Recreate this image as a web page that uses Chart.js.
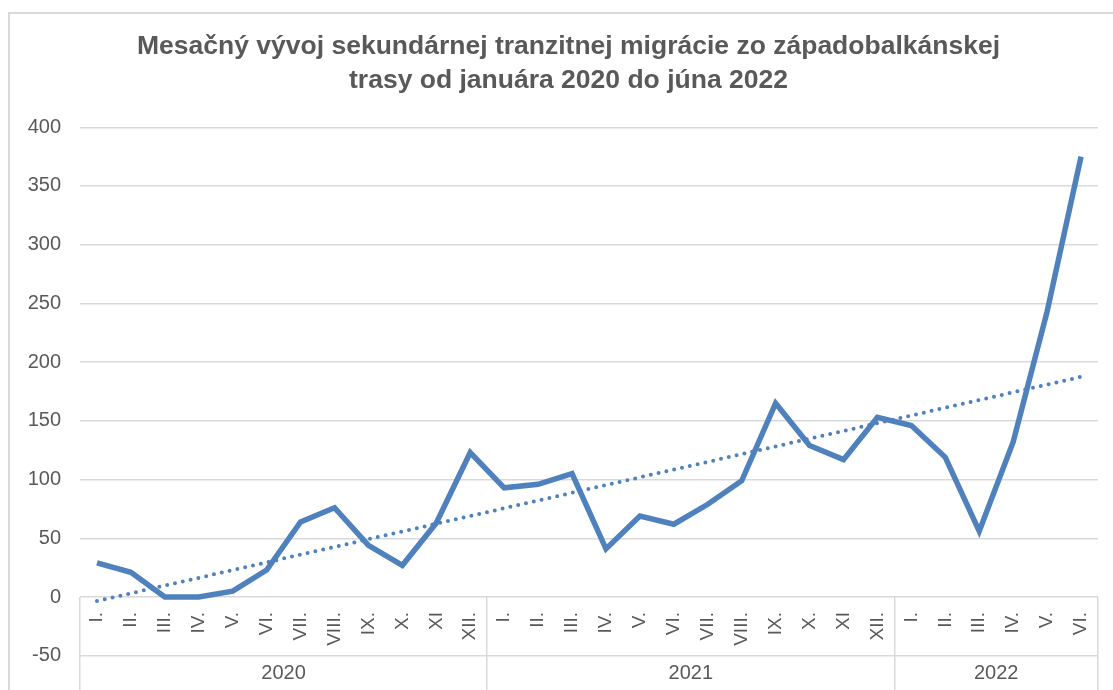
<!DOCTYPE html>
<html>
<head>
<meta charset="utf-8">
<script src="https://cdn.jsdelivr.net/npm/chart.js@4.4.1/dist/chart.umd.min.js"></script>
<style>
  html, body { margin: 0; padding: 0; background: #fff; overflow: hidden; }
  #frame { position: absolute; left: 8px; top: 12px; width: 1200px; height: 800px;
           border-left: 2px solid #d9d9d9; border-top: 2px solid #d9d9d9; }
  #myChart { position: absolute; left: 0; top: 0; }
</style>
</head>
<body>
<div id="frame"></div>
<canvas id="myChart" width="1128" height="700"></canvas>
<script>
// Chart data
const titleLines = [
    'Mesačný vývoj sekundárnej tranzitnej migrácie zo západobalkánskej',
    'trasy od januára 2020 do júna 2022'
];
const monthLabels = [
    'I.', 'II.', 'III.', 'IV.', 'V.', 'VI.', 'VII.', 'VIII.', 'IX.', 'X.', 'XI', 'XII.',
    'I.', 'II.', 'III.', 'IV.', 'V.', 'VI.', 'VII.', 'VIII.', 'IX.', 'X.', 'XI', 'XII.',
    'I.', 'II.', 'III.', 'IV.', 'V.', 'VI.'
];
const migrants = [
    29, 21, 0, 0, 5, 23, 64, 76, 44, 27, 63, 123,
    93, 96, 105, 41, 69, 62, 79, 99, 165, 129, 117, 153,
    146, 119, 56, 132, 243, 375
];
// linear trend, start and end
const trendStart = -3.4;
const trendEnd = 187.5;
const yearLabels = ['2020', '2021', '2022'];
const yearStarts = [0, 12, 24, 30];   // month index where each year begins (+ end)
const yTicks = [-50, 0, 50, 100, 150, 200, 250, 300, 350, 400];

const blue = 'rgb(79, 129, 189)';
const gridGray = '#d9d9d9';
const textGray = '#595959';
const fontFamily = '"Liberation Sans", Arial, sans-serif';

const trendData = monthLabels.map((m, i) => {
    if (i === 0) return trendStart;
    if (i === monthLabels.length - 1) return trendEnd;
    return null;
});

// year axis: boundaries + centres of each year group
const yearTickValues = [];
const yearTickText = {};
yearLabels.forEach((y, i) => {
    const mid = (yearStarts[i] + yearStarts[i + 1]) / 2;
    yearTickText[mid] = y;
});
yearStarts.forEach(v => yearTickValues.push(v));
Object.keys(yearTickText).forEach(v => yearTickValues.push(Number(v)));
yearTickValues.sort((a, b) => a - b);

const ctx = document.getElementById('myChart').getContext('2d');

const myChart = new Chart(ctx, {
    type: 'line',
    data: {
        labels: monthLabels,
        datasets: [
            {
                label: 'Lineárny trend',
                data: trendData,
                borderColor: blue,
                borderWidth: 4,
                borderDash: [0, 8],
                borderCapStyle: 'round',
                pointRadius: 0,
                spanGaps: true,
                order: 0
            },
            {
                label: 'Migranti',
                data: migrants,
                borderColor: blue,
                borderWidth: 5.5,
                borderJoinStyle: 'miter',
                pointRadius: 0,
                tension: 0,
                order: 1
            }
        ]
    },
    options: {
        responsive: false,
        animation: false,
        layout: {
            padding: { left: 9, right: 0, top: 13, bottom: 0 }
        },
        plugins: {
            legend: { display: false },
            tooltip: { enabled: false },
            title: {
                display: true,
                text: titleLines,
                color: textGray,
                font: { family: fontFamily, size: 26.5, weight: 'bold', lineHeight: 1.25 },
                padding: { top: 17.5, bottom: 30.5 }
            }
        },
        scales: {
            y: {
                min: -50,
                max: 400,
                afterBuildTicks: axis => { axis.ticks = yTicks.map(v => ({ value: v })); },
                afterFit: axis => { axis.width = 71; },
                border: { display: false },
                grid: { color: gridGray, lineWidth: 1.5, drawTicks: false },
                ticks: {
                    color: textGray,
                    padding: 19,
                    font: { family: fontFamily, size: 20 }
                }
            },
            // empty spacer on the right, keeps the title centred like the original
            yRight: {
                position: 'right',
                afterFit: axis => { axis.width = 30; },
                border: { display: false },
                grid: { display: false },
                ticks: { display: false }
            },
            x: {
                type: 'category',
                position: { y: 0 },
                offset: true,
                afterFit: axis => { axis.height = 0; },
                border: { display: false },
                grid: {
                    offset: true,
                    drawOnChartArea: false,
                    tickLength: 58.75,
                    lineWidth: 1.5,
                    color: c => (c.index === undefined || yearStarts.includes(c.index)) ? gridGray : 'rgba(0,0,0,0)'
                },
                ticks: {
                    autoSkip: false,
                    minRotation: 90,
                    maxRotation: 90,
                    padding: -43.75,
                    color: textGray,
                    font: { family: fontFamily, size: 19 }
                }
            },
            x2: {
                type: 'linear',
                position: 'bottom',
                min: 0,
                max: monthLabels.length,
                afterBuildTicks: axis => { axis.ticks = yearTickValues.map(v => ({ value: v })); },
                afterFit: axis => { axis.height = 44.25; },
                border: { display: false },
                grid: {
                    drawOnChartArea: false,
                    tickLength: 44.25,
                    lineWidth: 1.5,
                    color: c => (c.tick && yearStarts.includes(c.tick.value)) ? gridGray : 'rgba(0,0,0,0)'
                },
                ticks: {
                    autoSkip: false,
                    maxRotation: 0,
                    padding: -38.5,
                    color: textGray,
                    font: { family: fontFamily, size: 20 },
                    callback: value => yearTickText[value] || ''
                }
            }
        }
    }
});
</script>
</body>
</html>
